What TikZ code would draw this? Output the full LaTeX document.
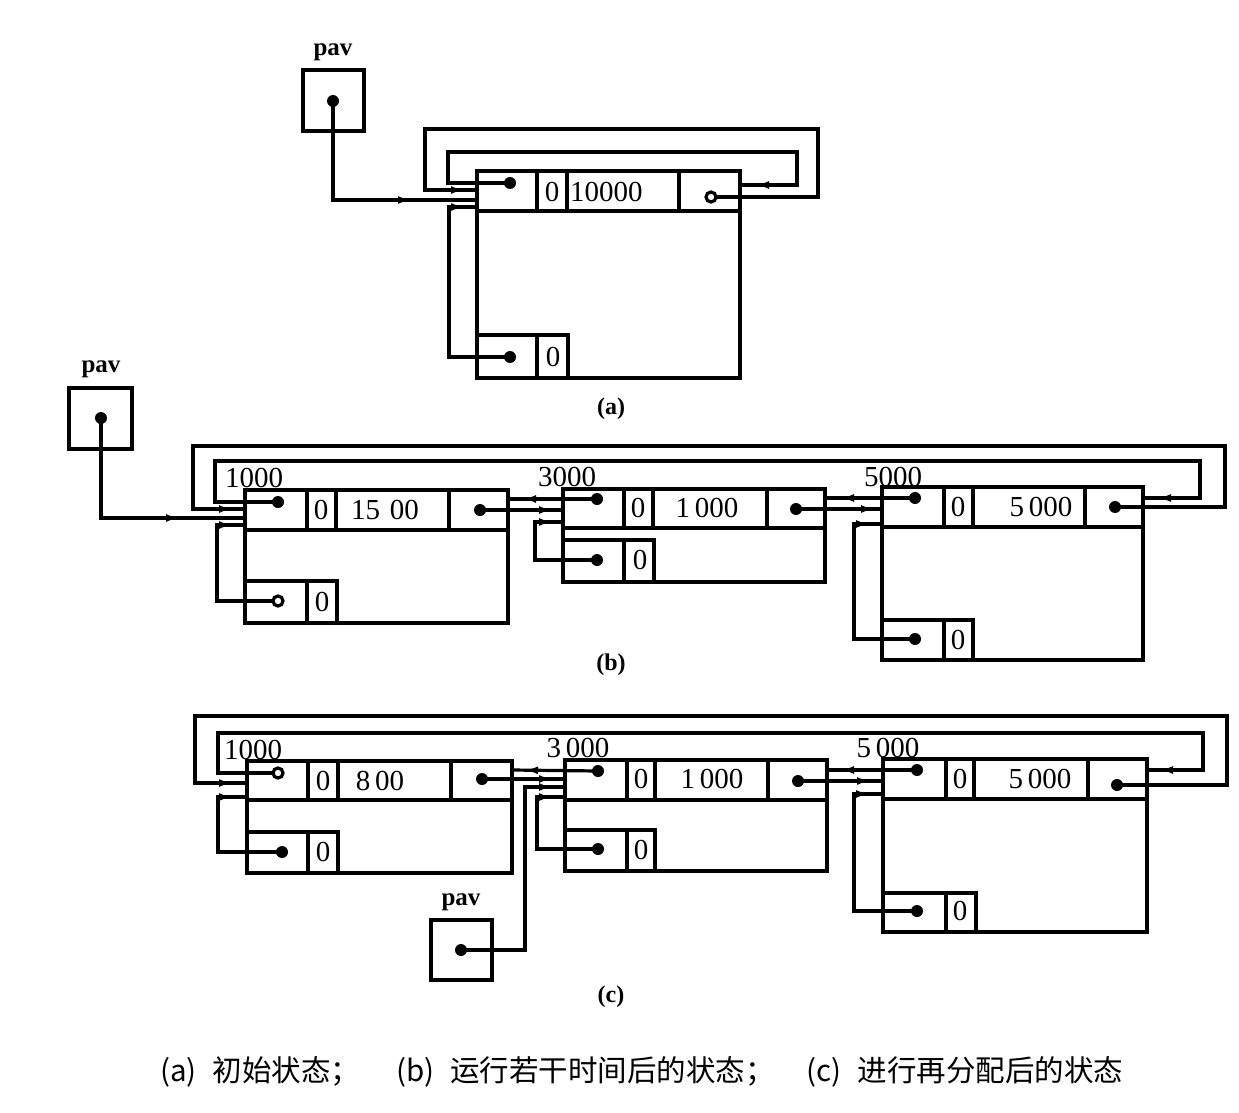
\documentclass[tikz,border=0pt]{standalone}
\usepackage{fontspec}
\setmainfont{Liberation Serif}
\newfontfamily\cjkf{Noto Sans CJK SC}
\usetikzlibrary{arrows.meta,decorations.markings}
\tikzset{
  blk/.style={line width=3.5pt},
  wire/.style={line width=3.2pt},
  arr/.style={postaction={decorate,decoration={markings,mark=at position #1 with {\arrow{Latex[length=13pt,width=8pt]}}}}},
  fdot/.style={circle,fill=black,inner sep=0pt,minimum size=12pt},
  hdot/.style={circle,draw=black,fill=white,line width=3.2pt,inner sep=0pt,minimum size=10pt},
  num/.style={font=\fontsize{29}{30}\selectfont,inner sep=0pt},
  lbl/.style={font=\bfseries\fontsize{25}{27}\selectfont,inner sep=0pt},
  partcap/.style={font=\bfseries\fontsize{24}{26}\selectfont,inner sep=0pt},
}
\begin{document}
\begin{tikzpicture}[x=1pt,y=-1pt]
\useasboundingbox (0,0) rectangle (1239,1113);
\fill[white] (0,0) rectangle (1239,1113);

%%%%%%%%%%%%%%%% (a) %%%%%%%%%%%%%%%%
\node[lbl] (a-pavlab) at (333,52) {pav};
\draw[blk] (303,70) rectangle (364,131);
% block
\draw[blk] (477,171) rectangle (740,378);
\draw[blk] (477,211) -- (740,211);
\draw[blk] (537,171) -- (537,211) (567,171) -- (567,211) (679,171) -- (679,211);
\draw[blk] (477,335) -- (568,335) -- (568,378) (537,335) -- (537,378);
\node[num] (a-tag) at (552,192) {0};
\node[num,anchor=west] (a-size) at (570,192) {10000};
\node[num] (a-ftag) at (553,357) {0};
\coordinate (a-pav) at (333,101);
\coordinate (a-l) at (510,183);
\coordinate (a-r) at (711,197);
\coordinate (a-f) at (510,357);
\coordinate (a-in1) at (477,190);
\coordinate (a-in2) at (477,200);
\coordinate (a-in3) at (477,207);
\coordinate (a-inr) at (740,185);
\draw[wire,arr=-66pt] (a-pav) |- (a-in2);
\draw[wire,arr=-13pt] (a-r) -- (818,197) |- (425,129) |- (a-in1);
\draw[wire,arr=-16pt] (a-l) -| (448,152) -| (797,185) -- (a-inr);
\draw[wire,arr=-13pt] (a-f) -| (449,207) -- (a-in3);
\node[fdot] (a-pavd) at (a-pav) {};
\node[fdot] (a-ld) at (a-l) {};
\node[hdot] (a-rd) at (a-r) {};
\node[fdot] (a-fd) at (a-f) {};
\node[partcap] (a-cap) at (611,409) {(a)};

%%%%%%%%%%%%%%%% (b) %%%%%%%%%%%%%%%%
\node[lbl] (b-pavlab) at (101,369) {pav};
\draw[blk] (69,388) rectangle (132,449);
% block 1
\draw[blk] (245,490) rectangle (508,623);
\draw[blk] (245,530) -- (508,530);
\draw[blk] (307,490) -- (307,530) (336,490) -- (336,530) (449,490) -- (449,530);
\draw[blk] (245,581) -- (337,581) -- (337,623) (307,581) -- (307,623);
\node[num] at (321,510) {0};
\node[num] at (385,510) {15\,\,00};
\node[num] at (322,602) {0};
\node[num] at (254,478) {1000};
% block 2
\draw[blk] (563,489) rectangle (825,582);
\draw[blk] (563,528) -- (825,528);
\draw[blk] (624,489) -- (624,528) (653,489) -- (653,528) (767,489) -- (767,528);
\draw[blk] (563,540) -- (654,540) -- (654,582) (624,540) -- (624,582);
\node[num] at (638,508) {0};
\node[num] at (707,508) {1\,000};
\node[num] at (640,560) {0};
\node[num] at (567,477) {3000};
% block 3
\draw[blk] (882,487) rectangle (1143,660);
\draw[blk] (882,527) -- (1143,527);
\draw[blk] (944,487) -- (944,527) (973,487) -- (973,527) (1085,487) -- (1085,527);
\draw[blk] (882,620) -- (973,620) -- (973,660) (944,620) -- (944,660);
\node[num] at (958,507) {0};
\node[num] at (1041,507) {5\,000};
\node[num] at (958,640) {0};
\node[num] at (893,477) {5000};
% pointer positions
\coordinate (b-pav) at (101,418);
\coordinate (b1-l) at (278,502);
\coordinate (b1-r) at (480,510);
\coordinate (b1-f) at (278,601);
\coordinate (b2-l) at (597,499);
\coordinate (b2-r) at (796,509);
\coordinate (b2-f) at (597,560);
\coordinate (b3-l) at (915,498);
\coordinate (b3-r) at (1115,507);
\coordinate (b3-f) at (915,639);
\coordinate (b1-in1) at (245,509);
\coordinate (b1-in2) at (245,518);
\coordinate (b1-in3) at (245,525);
\coordinate (b1-rin) at (508,499);
\coordinate (b2-in1) at (563,510);
\coordinate (b2-in3) at (563,522);
\coordinate (b2-rin) at (825,498);
\coordinate (b3-in1) at (882,509);
\coordinate (b3-in3) at (882,524);
\coordinate (b3-rin) at (1143,498);
\draw[wire,arr=-66pt] (b-pav) |- (b1-in2);
\draw[wire,arr=-13pt] (b3-r) -- (1225,507) |- (193,446) |- (b1-in1);
\draw[wire,arr=-15pt] (b1-l) -| (215,461) -| (1200,498) -- (b3-rin);
\draw[wire,arr=-13pt] (b1-f) -| (217,525) -- (b1-in3);
\draw[wire,arr=-11pt] (b1-r) -- (b2-in1);
\draw[wire,arr=-15pt] (b2-l) -- (b1-rin);
\draw[wire,arr=-11pt] (b2-f) -| (535,522) -- (b2-in3);
\draw[wire,arr=-8pt] (b2-r) -- (b3-in1);
\draw[wire,arr=-16pt] (b3-l) -- (b2-rin);
\draw[wire,arr=-13pt] (b3-f) -| (854,524) -- (b3-in3);
\node[fdot] (b-pavd) at (b-pav) {};
\node[fdot] (b1-ld) at (b1-l) {};
\node[fdot] (b1-rd) at (b1-r) {};
\node[hdot] (b1-fd) at (b1-f) {};
\node[fdot] (b2-ld) at (b2-l) {};
\node[fdot] (b2-rd) at (b2-r) {};
\node[fdot] (b2-fd) at (b2-f) {};
\node[fdot] (b3-ld) at (b3-l) {};
\node[fdot] (b3-rd) at (b3-r) {};
\node[fdot] (b3-fd) at (b3-f) {};
\node[partcap] (b-cap) at (611,665) {(b)};

%%%%%%%%%%%%%%%% (c) %%%%%%%%%%%%%%%%
% block 1
\draw[blk] (247,761) rectangle (512,873);
\draw[blk] (247,800) -- (512,800);
\draw[blk] (308,761) -- (308,800) (338,761) -- (338,800) (451,761) -- (451,800);
\draw[blk] (247,832) -- (338,832) -- (338,873) (308,832) -- (308,873);
\node[num] at (323,781) {0};
\node[num] at (380,781) {8\,00};
\node[num] at (323,852) {0};
\node[num] at (253,750) {1000};
% block 2
\draw[blk] (565,760) rectangle (827,871);
\draw[blk] (565,800) -- (827,800);
\draw[blk] (627,760) -- (627,800) (655,760) -- (655,800) (768,760) -- (768,800);
\draw[blk] (565,830) -- (655,830) -- (655,871) (627,830) -- (627,871);
\node[num] at (641,779) {0};
\node[num] at (712,779) {1\,000};
\node[num] at (641,850) {0};
\node[num] at (578,748) {3\,000};
% block 3
\draw[blk] (883,759) rectangle (1147,932);
\draw[blk] (883,799) -- (1147,799);
\draw[blk] (946,759) -- (946,799) (974,759) -- (974,799) (1088,759) -- (1088,799);
\draw[blk] (883,893) -- (976,893) -- (976,932) (946,893) -- (946,932);
\node[num] at (960,779) {0};
\node[num] at (1040,779) {5\,000};
\node[num] at (960,911) {0};
\node[num] at (888,748) {5\,000};
% pav (c)
\node[lbl] (c-pavlab) at (461,902) {pav};
\draw[blk] (431,920) rectangle (492,980);
% pointer positions
\coordinate (c-pav) at (461,950);
\coordinate (c1-l) at (278,773);
\coordinate (c1-r) at (482,779);
\coordinate (c1-f) at (282,852);
\coordinate (c2-l) at (598,771);
\coordinate (c2-r) at (798,781);
\coordinate (c2-f) at (598,849);
\coordinate (c3-l) at (917,770);
\coordinate (c3-r) at (1117,785);
\coordinate (c3-f) at (917,911);
\coordinate (c1-in1) at (247,783);
\coordinate (c1-in3) at (247,797);
\coordinate (c1-rin) at (512,770);
\coordinate (c2-in1) at (565,779);
\coordinate (c2-in2) at (565,787);
\coordinate (c2-in3) at (565,797);
\coordinate (c2-rin) at (827,770);
\coordinate (c3-in1) at (883,781);
\coordinate (c3-in3) at (883,794);
\coordinate (c3-rin) at (1147,770);
\draw[wire,arr=-15pt] (c3-r) -- (1227,785) |- (195,716) |- (c1-in1);
\draw[wire,arr=-13pt] (c1-l) -| (218,733) -| (1203,770) -- (c3-rin);
\draw[wire,arr=-15pt] (c1-f) -| (218,797) -- (c1-in3);
\draw[wire,arr=-13pt] (c1-r) -- (c2-in1);
\draw[wire,arr=-13pt] (c2-l) -- (c1-rin);
\draw[wire,arr=-13pt] (c-pav) -| (525,787) -- (c2-in2);
\draw[wire,arr=-13pt] (c2-f) -| (537,797) -- (c2-in3);
\draw[wire,arr=-13pt] (c2-r) -- (c3-in1);
\draw[wire,arr=-14pt] (c3-l) -- (c2-rin);
\draw[wire,arr=-14pt] (c3-f) -| (854,794) -- (c3-in3);
\node[fdot] (c-pavd) at (c-pav) {};
\node[hdot] (c1-ld) at (c1-l) {};
\node[fdot] (c1-rd) at (c1-r) {};
\node[fdot] (c1-fd) at (c1-f) {};
\node[fdot] (c2-ld) at (c2-l) {};
\node[fdot] (c2-rd) at (c2-r) {};
\node[fdot] (c2-fd) at (c2-f) {};
\node[fdot] (c3-ld) at (c3-l) {};
\node[fdot] (c3-rd) at (c3-r) {};
\node[fdot] (c3-fd) at (c3-f) {};
\node[partcap] (c-cap) at (611,997) {(c)};

%%%%%%%%%%%%%%%% caption %%%%%%%%%%%%%%%%
\node[anchor=west,inner sep=0pt,font=\cjkf\fontsize{29.5}{31}\selectfont] (caption) at (160,1072)
  {(a)\hspace{16pt}初始状态；\hspace{36pt}(b)\hspace{16pt}运行若干时间后的状态；\hspace{32pt}(c)\hspace{16pt}进行再分配后的状态};
\end{tikzpicture}
\end{document}
